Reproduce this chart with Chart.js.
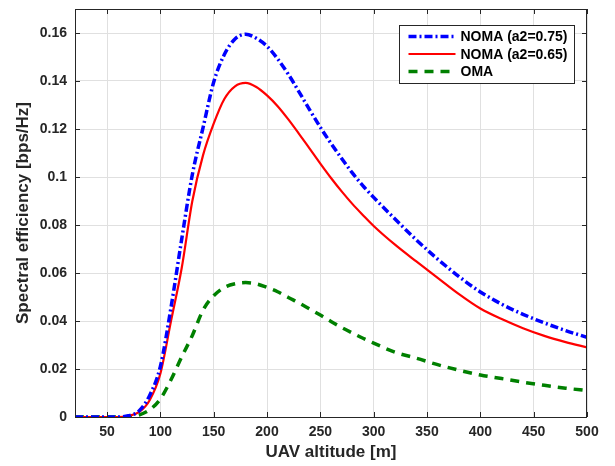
<!DOCTYPE html>
<html>
<head>
<meta charset="utf-8">
<script src="https://cdn.jsdelivr.net/npm/chart.js@4.4.0/dist/chart.umd.min.js"></script>
<style>
html,body{margin:0;padding:0;background:#fff;}
#wrap{width:615px;height:466px;position:relative;}
</style>
</head>
<body>
<div id="wrap"><canvas id="c" width="615" height="466"></canvas></div>
<script>
// ---- data ----
const altitudes = [20,30,40,50,60,70,80,90,100,110,120,130,140,150,160,170,180,190,200,210,220,230,240,250,260,270,280,290,300,320,340,360,380,400,420,440,460,480,500];
const noma075 = [0,0,0,0,0,0.0005,0.0025,0.009,0.021,0.0456,0.074,0.101,0.1205,0.1395,0.151,0.1575,0.1595,0.1578,0.1545,0.1492,0.1428,0.1355,0.128,0.1207,0.114,0.1077,0.1017,0.0963,0.0915,0.0825,0.0738,0.0658,0.0585,0.0521,0.047,0.0428,0.0392,0.036,0.0332];
const noma065 = [0,0,0,0,0,0.0004,0.002,0.007,0.018,0.04,0.062,0.09,0.109,0.1222,0.1325,0.1378,0.1392,0.1375,0.134,0.1295,0.124,0.118,0.1118,0.1056,0.0996,0.094,0.0888,0.0841,0.0796,0.0718,0.0648,0.058,0.0512,0.0452,0.0408,0.037,0.0338,0.0312,0.029];
const oma = [0,0,0,0,0,0,0.0008,0.003,0.0075,0.0155,0.025,0.034,0.0445,0.0505,0.054,0.0555,0.056,0.0555,0.054,0.0522,0.0498,0.0475,0.045,0.0425,0.0398,0.0373,0.035,0.0328,0.0308,0.027,0.0245,0.0218,0.0195,0.0175,0.016,0.0145,0.0132,0.012,0.011];
const xTicks = [50,100,150,200,250,300,350,400,450,500];
const yTicks = [0,0.02,0.04,0.06,0.08,0.1,0.12,0.14,0.16];
const seriesLabels = ['NOMA (a2=0.75)','NOMA (a2=0.65)','OMA'];

const FONT = '"Liberation Sans", Arial, Helvetica, sans-serif';
const TXT = '#262626';
const pts = arr => altitudes.map((a,i)=>({x:a,y:arr[i]}));

const frame = {
  id:'frame',
  afterDatasetsDraw(chart){
    const {ctx, chartArea:a, scales} = chart;
    ctx.save();
    ctx.strokeStyle = TXT; ctx.lineWidth = 1;
    ctx.strokeRect(Math.round(a.left)+0.5, Math.round(a.top)+0.5, Math.round(a.right-a.left)-1, Math.round(a.bottom-a.top));
    const L = 5;
    ctx.beginPath();
    scales.x.ticks.forEach(t=>{
      const px = Math.round(scales.x.getPixelForValue(t.value))+0.5;
      ctx.moveTo(px,a.bottom); ctx.lineTo(px,a.bottom-L);
      ctx.moveTo(px,a.top); ctx.lineTo(px,a.top+L);
    });
    scales.y.ticks.forEach(t=>{
      const py = Math.round(scales.y.getPixelForValue(t.value))+0.5;
      ctx.moveTo(a.left,py); ctx.lineTo(a.left+L,py);
      ctx.moveTo(a.right,py); ctx.lineTo(a.right-L,py);
    });
    ctx.stroke();
    // legend
    const w = 175, h = 58;
    const x0 = Math.round(a.right - 13 - w) + 0.5, y0 = Math.round(a.top + 16) + 0.5;
    ctx.fillStyle = '#fff';
    ctx.fillRect(x0,y0,w,h);
    ctx.strokeStyle = TXT; ctx.lineWidth = 1;
    ctx.strokeRect(x0,y0,w,h);
    chart.data.datasets.forEach((ds,i)=>{
      const yy = y0 + 11 + i*17.5;
      ctx.save();
      ctx.strokeStyle = ds.borderColor;
      ctx.lineWidth = ds.borderWidth;
      ctx.setLineDash(ds.borderDash || []);
      ctx.beginPath(); ctx.moveTo(x0+9,yy); ctx.lineTo(x0+56,yy); ctx.stroke();
      ctx.restore();
      ctx.fillStyle = '#000';
      ctx.font = 'bold 14px ' + FONT;
      ctx.textBaseline = 'middle';
      ctx.fillText(ds.label, x0+61, yy+1);
    });
    ctx.restore();
  }
};

new Chart(document.getElementById('c'), {
  type:'line',
  data:{
    datasets:[
      {label:seriesLabels[0], data:pts(noma075), borderColor:'#0000ff', borderWidth:3.5, borderDash:[8,3,2,3], pointRadius:0, cubicInterpolationMode:'monotone', fill:false},
      {label:seriesLabels[1], data:pts(noma065), borderColor:'#ff0000', borderWidth:2.2, pointRadius:0, cubicInterpolationMode:'monotone', fill:false},
      {label:seriesLabels[2], data:pts(oma), borderColor:'#008000', borderWidth:3.5, borderDash:[9,7], pointRadius:0, cubicInterpolationMode:'monotone', fill:false}
    ]
  },
  options:{
    responsive:false, animation:false, devicePixelRatio:1,
    layout:{padding:{left:0,right:28,top:9,bottom:0}},
    plugins:{legend:{display:false}, tooltip:{enabled:false}},
    scales:{
      x:{
        type:'linear', min:20, max:500,
        afterBuildTicks:s=>{ s.ticks = xTicks.map(v=>({value:v})); },
        afterFit:s=>{ s.height = 49; s.paddingLeft = 0; s.paddingRight = 0; },
        grid:{color:'#e0e0e0', drawTicks:false, lineWidth:1},
        border:{display:false},
        ticks:{color:TXT, font:{family:FONT, size:14, weight:'bold'}, padding:7, maxRotation:0, autoSkip:false, callback:v=>String(v)},
        title:{display:true, text:'UAV altitude [m]', color:TXT, font:{family:FONT, size:17, weight:'bold'}, padding:{top:0,bottom:3}}
      },
      y:{
        type:'linear', min:0, max:0.17,
        afterBuildTicks:s=>{ s.ticks = yTicks.map(v=>({value:v})); },
        afterFit:s=>{ s.width = 75; s.paddingTop = 0; s.paddingBottom = 0; },
        grid:{color:'#e0e0e0', drawTicks:false, lineWidth:1},
        border:{display:false},
        ticks:{color:TXT, font:{family:FONT, size:14, weight:'bold'}, padding:8, autoSkip:false, callback:v=>String(+v.toFixed(2))},
        title:{display:true, text:'Spectral efficiency [bps/Hz]', color:TXT, font:{family:FONT, size:17, weight:'bold'}, padding:{top:13,bottom:0}}
      }
    }
  },
  plugins:[frame]
});
</script>
</body>
</html>
